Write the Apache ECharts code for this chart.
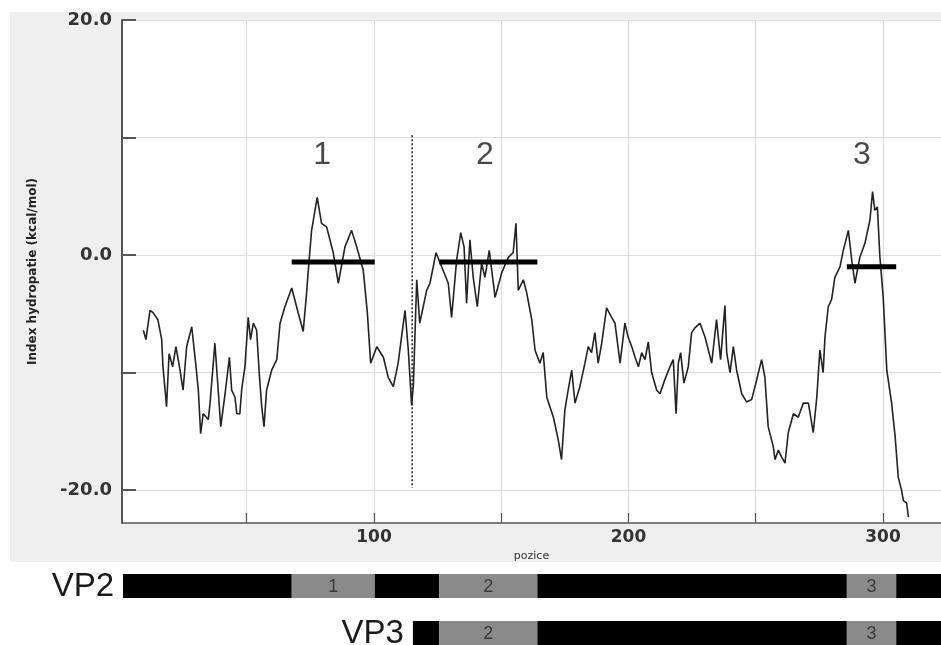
<!DOCTYPE html>
<html>
<head>
<meta charset="utf-8">
<script src="https://cdn.jsdelivr.net/npm/echarts@6/dist/echarts.min.js"></script>
<style>
html, body { margin: 0; padding: 0; background: #fff; }
#chart { width: 941px; height: 645px; }
</style>
</head>
<body>
<div id="chart"></div>
<script>
// hydropatický profil - pozice a hodnoty (kcal/mol)
const positions = [
    9.4, 10.4, 12, 13.2, 15.1, 16.6, 17.1, 18.5, 19.5, 20.9, 22.2, 23.8, 25, 26.4, 28.4, 29.7, 31, 31.9, 32.9, 34.9,
    35.6, 37.5, 38.8, 39.8, 41.5, 43.2, 44.1, 45.4, 46.1, 47.3, 48, 49.3, 50.6, 51.5, 52.6, 53.9, 54.9, 55.9, 56.8, 57.8,
    59.8, 61.8, 63.1, 65, 67.7, 69.6, 72.2, 73.5, 74.2, 75.5, 77.7, 79.4, 81.4, 84, 86, 88.6, 91.2, 93.2, 95.8, 97.4,
    98.7, 101.1, 103.7, 105.6, 107.6, 109.5, 112.2, 113.5, 114.8, 115.5, 116.8, 118, 120.7, 122, 124.4, 126.6, 129.2, 130.5, 132.5, 134.1,
    135.4, 136.4, 137.7, 139, 140.6, 142.3, 143.6, 145.3, 147.6, 150.2, 152.8, 154.7, 155.8, 156.7, 158.7, 160, 162, 163.3, 165.2, 166.5,
    167.9, 170.5, 172.4, 173.7, 175, 176.3, 177.7, 179, 180.9, 182.9, 184.2, 185.5, 186.8, 188.1, 189.5, 191.4, 193.4, 194.7, 196.7, 198.6,
    199.9, 201.3, 202.6, 203.9, 205.2, 206.5, 207.8, 209.1, 211.1, 212.4, 214.3, 216.3, 217.6, 218.7, 219.6, 220.5, 221.8, 223.5, 224.8, 226.1,
    228.1, 230.1, 232.7, 234.6, 236.2, 237.9, 238.6, 239.9, 241.2, 242.5, 244.5, 246.4, 248.4, 250.4, 252.3, 253.6, 254.9, 256.9, 257.6, 258.9,
    260.2, 261.5, 262.8, 264.8, 266.7, 268.7, 270.7, 272.6, 274, 275.2, 276.5, 277.2, 278.5, 279.8, 281.1, 283.1, 284.4, 286.4, 287.7, 289,
    290.9, 292.9, 294.9, 295.9, 296.8, 297.8, 298.8, 300.1, 301.5, 303.4, 304.8, 306, 307.3, 308, 309.3, 310
];
const hydro = [
    -6.4, -7.2, -4.7, -4.9, -5.5, -7.2, -9.5, -12.9, -8.4, -9.5, -7.8, -9.8, -11.5, -7.8, -6.1, -8.7, -11.5, -15.2, -13.5, -14,
    -12.6, -7.5, -11.5, -14.6, -11.8, -8.7, -11.5, -12.1, -13.5, -13.5, -11.5, -9.5, -5.3, -7.2, -5.8, -6.4, -10, -12.9, -14.6, -11.5,
    -9.8, -8.9, -5.8, -4.4, -2.8, -4.4, -6.5, -3.3, -1.3, 2.1, 4.9, 2.7, 2.4, 0.2, -2.4, 0.7, 2.1, 0.7, -1.3, -4.9,
    -9.2, -7.8, -8.7, -10.4, -11.2, -9.2, -4.7, -8.1, -12.8, -11, -2.1, -5.8, -3, -2.4, 0.2, -1, -2.4, -5.3, -0.4, 1.9,
    0.7, -4.1, 1.3, -1.9, -4.4, -0.7, -1.9, 0.4, -3.6, -1.5, -0.2, 0.2, 2.7, -3, -2.1, -3.2, -5.5, -8.1, -9.2, -8.3,
    -12.1, -13.8, -15.7, -17.4, -13.2, -11.5, -9.8, -12.6, -11.2, -9.2, -7.8, -8.3, -6.6, -9.2, -7.5, -4.5, -5.3, -5.8, -9.2, -5.8,
    -7, -7.8, -8.7, -9.5, -8.3, -8.9, -7.4, -10, -11.5, -11.8, -10.6, -9.5, -8.9, -13.5, -9.2, -8.3, -10.9, -9.5, -6.6, -6.2,
    -5.8, -7, -9.2, -5.5, -8.9, -4.3, -8.3, -10, -7.8, -9.8, -11.8, -12.5, -12.3, -10.6, -8.9, -10.4, -14.6, -16.3, -17.4, -16.6,
    -17.2, -17.7, -15.1, -13.5, -13.8, -12.6, -12.6, -15.1, -12.1, -8.1, -10, -7, -4.4, -3.8, -1.9, -1, 0.4, 2.1, -0.4, -2.4,
    -0.2, 1, 3, 5.4, 3.8, 4.1, -0.2, -3.6, -9.8, -12.6, -15.5, -18.9, -20, -20.9, -21.1, -22.3
];

// oblasti 1, 2, 3
const regionNames = ['1', '2', '3'];
const regionStart = [67.7, 125.7, 285.8];
const regionEnd = [100.3, 164.2, 305.2];
const regionLevel = [-0.6, -0.6, -1.0];
const regionLabelX = [79.6, 143.6, 291.7];
const regionLabelY = [8.5, 8.5, 8.5];

// řetězce VP2 / VP3
const chainNames = ['VP2', 'VP3'];
const chainStart = [1.4, 115.3];
const chainEnd = 330;
const splitPos = 115;
const splitFrom = 10.2;
const splitTo = -19.8;

// osy
const yTicks = [-20, -10, 0, 10, 20];
const yLabels = [-20, 0, 20];
const xTicks = [50, 100, 150, 200, 250, 300];
const xLabels = [100, 200, 300];

// segmenty pruhů VP2 / VP3
let chainSegments = [];
chainNames.forEach((name, row) => {
    let cursor = chainStart[row];
    let first = true;
    regionNames.forEach((reg, i) => {
        if (regionEnd[i] <= cursor) return;
        if (regionStart[i] > cursor) {
            chainSegments.push({ value: [cursor, regionStart[i], row, 0], text: '', chain: first ? name : '' });
            first = false;
        }
        chainSegments.push({ value: [Math.max(cursor, regionStart[i]), regionEnd[i], row, 1], text: reg, chain: first ? name : '' });
        first = false;
        cursor = regionEnd[i];
    });
    chainSegments.push({ value: [cursor, chainEnd, row, 0], text: '', chain: '' });
});

// výška pruhu v jednotkách řádku
const barThickness = 0.51;

function renderChain(params, api) {
    const seg = chainSegments[params.dataIndex];
    const row = api.value(2);
    const p0 = api.coord([api.value(0), row]);
    const p1 = api.coord([api.value(1), row]);
    const h = api.size([0, barThickness])[1];
    const cs = params.coordSys;
    const shape = echarts.graphic.clipRectByRect(
        { x: p0[0], y: p0[1], width: p1[0] - p0[0], height: h },
        { x: cs.x, y: cs.y, width: cs.width, height: cs.height + 40 }
    );
    if (!shape) return;
    let children = [{
        type: 'rect',
        shape: shape,
        style: { fill: api.value(3) === 1 ? '#8a8a8a' : '#000' }
    }];
    if (seg.text) {
        children.push({
            type: 'text',
            x: (p0[0] + p1[0]) / 2,
            y: p0[1] + h / 2 + 1,
            style: { text: seg.text, fill: '#3a3a3a', fontSize: 18, fontFamily: 'Liberation Sans Narrow, Liberation Sans', align: 'center', verticalAlign: 'middle' }
        });
    }
    if (seg.chain) {
        children.push({
            type: 'text',
            x: p0[0] - 9,
            y: p0[1] + h / 2 + 1,
            style: { text: seg.chain, fill: '#1a1a1a', fontSize: 33, fontFamily: 'Liberation Sans', align: 'right', verticalAlign: 'middle' }
        });
    }
    return { type: 'group', children: children };
}

const chart = echarts.init(document.getElementById('chart'));

let series = [{
    name: 'profil',
    type: 'line',
    xAxisIndex: 0,
    yAxisIndex: 0,
    data: positions.map((p, i) => [p, hydro[i]]),
    showSymbol: false,
    symbol: 'none',
    lineStyle: { color: '#222', width: 1.6 },
    z: 3
}, {
    name: 'rozdeleni',
    type: 'line',
    data: [[splitPos, splitFrom], [splitPos, splitTo]],
    symbol: 'none',
    lineStyle: { color: '#222', width: 1.5, type: [2, 2] },
    z: 2
}, {
    name: 'popisky',
    type: 'scatter',
    data: regionLabelX.map((x, i) => ({ value: [x, regionLabelY[i]], name: regionNames[i] })),
    symbolSize: 1,
    itemStyle: { color: 'rgba(0,0,0,0)' },
    label: {
        show: true,
        position: 'inside',
        formatter: p => p.name,
        fontSize: 32,
        color: '#1a1a1a',
        fontFamily: 'Liberation Sans'
    },
    z: 5
}, {
    name: 'retezce',
    type: 'custom',
    xAxisIndex: 1,
    yAxisIndex: 1,
    renderItem: renderChain,
    encode: { x: [0, 1], y: 2 },
    data: chainSegments.map(s => s.value),
    clip: false,
    silent: true
}];

regionNames.forEach((name, i) => {
    series.push({
        name: 'oblast ' + name,
        type: 'line',
        data: [[regionStart[i], regionLevel[i]], [regionEnd[i], regionLevel[i]]],
        symbol: 'none',
        lineStyle: { color: '#000', width: 5, cap: 'butt' },
        z: 4
    });
});

chart.setOption({
    animation: false,
    backgroundColor: '#fff',
    graphic: [{
        type: 'rect',
        left: 10,
        top: 12,
        z: -10,
        shape: { width: 931, height: 550 },
        style: { fill: '#efefef' }
    }],
    grid: [{
        left: 122,
        right: 0,
        top: 20,
        bottom: 122,
        show: true,
        backgroundColor: '#fff',
        borderWidth: 0
    }, {
        left: 122,
        right: 0,
        top: 574,
        height: 71
    }],
    xAxis: [{
        type: 'value',
        gridIndex: 0,
        min: 1,
        max: 322.8,
        name: 'pozice',
        nameLocation: 'middle',
        nameGap: 28,
        nameTextStyle: { fontSize: 11, color: '#333', fontFamily: 'DejaVu Sans' },
        axisLine: { show: true, onZero: false, lineStyle: { color: '#555', width: 1.5 } },
        axisTick: { show: true, inside: true, length: 10, customValues: xTicks, lineStyle: { color: '#555', width: 1.2 } },
        axisLabel: { customValues: xLabels, fontSize: 17, fontWeight: 'bold', color: '#333', margin: 6, fontFamily: 'DejaVu Sans' },
        splitLine: { show: true, lineStyle: { color: '#dedede', width: 1.2 } }
    }, {
        type: 'value',
        gridIndex: 1,
        min: 1,
        max: 322.8,
        show: false
    }],
    yAxis: [{
        type: 'value',
        gridIndex: 0,
        min: -22.8,
        max: 20,
        name: 'Index hydropatie (kcal/mol)',
        nameLocation: 'middle',
        nameGap: 83,
        nameTextStyle: { fontSize: 12, fontWeight: 'bold', color: '#222', fontFamily: 'DejaVu Sans' },
        axisLine: { show: true, onZero: false, lineStyle: { color: '#555', width: 2 } },
        axisTick: { show: true, inside: true, length: 14, customValues: yTicks, lineStyle: { color: '#555', width: 2 } },
        axisLabel: { customValues: yLabels, formatter: v => v.toFixed(1), fontSize: 18, fontWeight: 'bold', color: '#333', margin: 10, fontFamily: 'DejaVu Sans' },
        splitLine: { show: true, lineStyle: { color: '#dedede', width: 1.2 } }
    }, {
        type: 'value',
        gridIndex: 1,
        min: 0,
        max: 1.51,
        inverse: true,
        show: false
    }],
    series: series
});

window.addEventListener('resize', () => {
    chart.resize();
});
</script>
</body>
</html>
